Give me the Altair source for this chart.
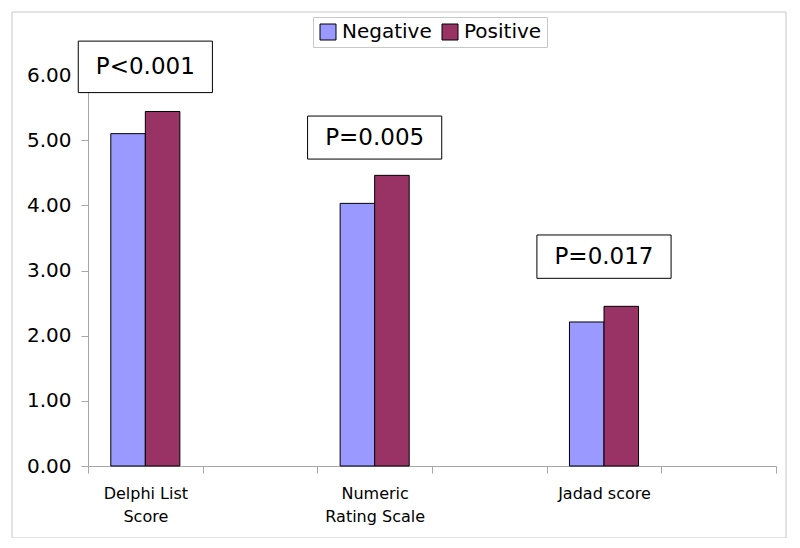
import altair as alt
import pandas as pd

# ---- data ----
categories = ["Delphi List|Score", "Numeric|Rating Scale", "Jadad score"]
axis_slots = ["Delphi List|Score", "_gap1", "Numeric|Rating Scale", "_gap2", "Jadad score", "_gap3"]
series = ["Negative", "Positive"]
negative = [5.10, 4.03, 2.21]
positive = [5.44, 4.46, 2.45]
colors = ["#9999FF", "#993366"]

p_labels = ["P<0.001", "P=0.005", "P=0.017"]
box_top = [6.52, 5.37, 3.545]      # in y units
box_bottom = [5.73, 4.71, 2.88]

rows = []
for c, n, p in zip(categories, negative, positive):
    rows.append({"category": c, "series": "Negative", "value": n})
    rows.append({"category": c, "series": "Positive", "value": p})
bars_df = pd.DataFrame(rows)

ann_df = pd.DataFrame({
    "category": categories,
    "label": p_labels,
    "top": box_top,
    "bottom": box_bottom,
})
ann_df["mid"] = (ann_df["top"] + ann_df["bottom"]) / 2

GREY = "#a6a6a6"
x_scale = alt.Scale(domain=axis_slots, paddingInner=0, paddingOuter=0)

frame = alt.Chart(pd.DataFrame({"k": [0]})).mark_rect(
    filled=False, stroke="#c8c8c8", strokeWidth=1
).encode(
    x=alt.value(-76), x2=alt.value(698), y=alt.value(-63), y2=alt.value(463)
)

label_expr = (
    "(isString(datum.label) && indexof(datum.label, '_') != 0) "
    "? split(datum.label, '|') : ''"
)

bars = alt.Chart(bars_df).mark_bar(stroke="black", strokeWidth=1).encode(
    x=alt.X(
        "category:N",
        scale=x_scale,
        axis=alt.Axis(
            title=None,
            labelAngle=0,
            tickBand="extent",
            labelExpr=label_expr,
            labelFontSize=16,
            labelColor="black",
            labelPadding=12,
            labelLineHeight=23,
            domainColor=GREY,
            tickColor=GREY,
            tickSize=7,
            grid=False,
        ),
    ),
    xOffset=alt.XOffset(
        "series:N",
        scale=alt.Scale(domain=series, paddingInner=0, paddingOuter=0.66),
    ),
    y=alt.Y(
        "value:Q",
        scale=alt.Scale(domain=[0, 6], nice=False),
        axis=alt.Axis(
            title=None,
            values=[0, 1, 2, 3, 4, 5, 6],
            format=".2f",
            labelFontSize=20,
            labelColor="black",
            labelPadding=10,
            domainColor=GREY,
            tickColor=GREY,
            tickSize=7,
            grid=False,
        ),
    ),
    color=alt.Color(
        "series:N",
        scale=alt.Scale(domain=series, range=colors),
        legend=alt.Legend(
            title=None,
            orient="none",
            legendX=225,
            legendY=-58,
            direction="horizontal",
            symbolType="square",
            symbolSize=256,
            symbolStrokeColor="black",
            symbolStrokeWidth=1,
            labelFontSize=20,
            labelColor="black",
            labelOffset=4,
            columnPadding=8,
            padding=5,
            strokeColor="#c8c8c8",
            fillColor="white",
        ),
    ),
)

boxes = alt.Chart(ann_df).mark_bar(
    fill="white", stroke="black", strokeWidth=1, width=alt.RelativeBandSize(1.17)
).encode(
    x=alt.X("category:N", scale=x_scale),
    y=alt.Y("top:Q", title=None),
    y2="bottom:Q",
)

texts = alt.Chart(ann_df).mark_text(
    align="center", baseline="middle", fontSize=23, color="black"
).encode(
    x=alt.X("category:N", scale=x_scale),
    y=alt.Y("mid:Q", title=None),
    text="label:N",
)

chart = alt.layer(frame, bars, boxes, texts).properties(
    width=688,
    height=391,
    autosize=alt.AutoSizeParams(type="none"),
    padding={"left": 80, "top": 67, "right": 16, "bottom": 72},
).configure(
    font="DejaVu Sans",
).configure_view(stroke=None)

chart.save("out.html", embed_options={"renderer": "svg", "actions": False})
